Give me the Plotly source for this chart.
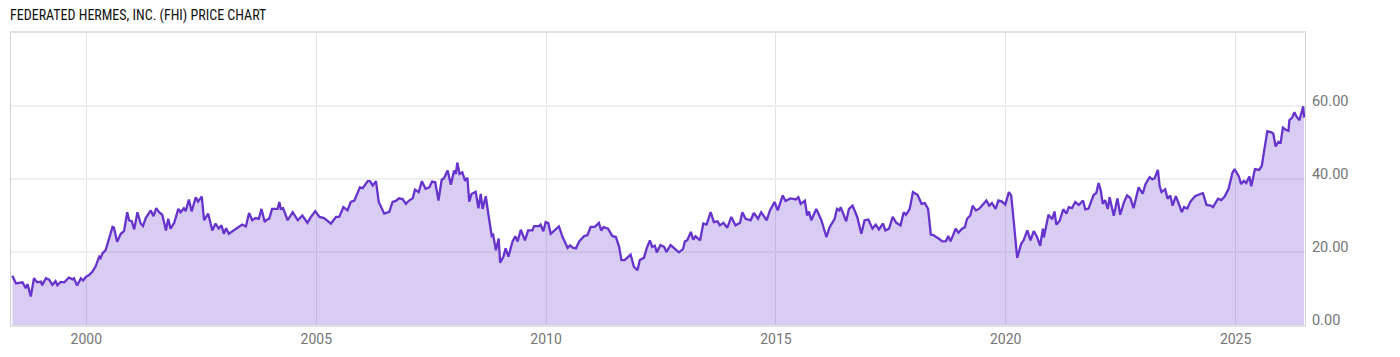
import plotly.graph_objects as go
import pandas as pd

# Decimal-year timestamps and closing prices (USD)
t_1998_2003 = [1998.39, 1998.47, 1998.61, 1998.68, 1998.72, 1998.79, 1998.86, 1998.93, 1999.01, 1999.04,
               1999.12, 1999.19, 1999.26, 1999.33, 1999.37, 1999.44, 1999.52, 1999.62, 1999.70, 1999.73,
               1999.80, 1999.88, 1999.93, 1999.99, 2000.06, 2000.13, 2000.20, 2000.28, 2000.31, 2000.35,
               2000.42, 2000.49, 2000.57, 2000.60, 2000.67, 2000.75, 2000.82, 2000.89, 2000.93, 2000.99,
               2001.04, 2001.11, 2001.18, 2001.23, 2001.29, 2001.40, 2001.46, 2001.52, 2001.58, 2001.65,
               2001.73, 2001.78, 2001.83, 2001.91, 2002.00, 2002.05, 2002.12, 2002.16, 2002.23, 2002.29,
               2002.38, 2002.43, 2002.51, 2002.56, 2002.65, 2002.74, 2002.81, 2002.88, 2002.94, 2002.99,
               2003.04, 2003.10, 2003.25, 2003.39, 2003.47, 2003.54, 2003.61, 2003.68, 2003.75, 2003.81,
               2003.88]
p_1998_2003 = [13.5, 11.4, 11.7, 10.1, 11.2, 7.8, 12.8, 11.7, 11.9, 10.9,
               12.8, 12.4, 11.0, 12.0, 10.9, 11.8, 11.7, 13.0, 12.5, 12.8,
               10.8, 12.8, 12.2, 13.2, 13.7, 14.6, 16.0, 18.7, 18.3, 19.6,
               20.5, 23.2, 26.9, 26.7, 22.8, 25.0, 25.7, 30.9, 28.7, 28.4,
               26.2, 30.9, 27.8, 27.1, 29.3, 31.4, 29.8, 32.0, 30.9, 30.2,
               25.9, 29.1, 26.4, 28.0, 31.8, 30.9, 32.0, 31.2, 34.4, 31.1,
               35.0, 33.8, 35.2, 28.7, 30.5, 25.9, 27.8, 26.4, 27.3, 25.0,
               26.5, 25.0, 26.4, 27.5, 27.0, 30.7, 28.7, 29.3, 29.1, 31.8,
               28.2]

t_2004_2009 = [2003.91, 2003.98, 2004.04, 2004.16, 2004.20, 2004.23, 2004.28, 2004.38, 2004.49, 2004.60,
               2004.70, 2004.81, 2004.88, 2004.98, 2005.07, 2005.17, 2005.32, 2005.43, 2005.50, 2005.59,
               2005.68, 2005.75, 2005.83, 2005.95, 2006.01, 2006.12, 2006.17, 2006.23, 2006.30, 2006.36,
               2006.41, 2006.48, 2006.59, 2006.66, 2006.73, 2006.80, 2006.88, 2006.95, 2007.02, 2007.10,
               2007.15, 2007.23, 2007.30, 2007.38, 2007.46, 2007.52, 2007.59, 2007.66, 2007.73, 2007.78,
               2007.86, 2007.93, 2008.00, 2008.04, 2008.07, 2008.12, 2008.18, 2008.24, 2008.29, 2008.33,
               2008.38, 2008.47, 2008.53, 2008.58, 2008.62, 2008.69, 2008.75, 2008.82, 2008.85, 2008.91,
               2008.97, 2009.00, 2009.07, 2009.12, 2009.18, 2009.27, 2009.33, 2009.38, 2009.45]
p_2004_2009 = [28.7, 29.2, 31.8, 31.8, 33.7, 31.8, 32.0, 28.7, 30.9, 28.7,
               30.0, 28.0, 29.5, 31.2, 29.6, 29.3, 27.8, 29.6, 29.6, 32.3,
               31.4, 33.7, 34.1, 37.7, 37.5, 39.4, 39.4, 38.2, 39.4, 33.7,
               32.3, 30.5, 31.0, 33.7, 34.0, 34.7, 34.5, 33.2, 34.1, 34.7,
               37.1, 36.4, 39.4, 37.3, 37.7, 39.3, 39.1, 34.1, 39.8, 40.2,
               42.3, 38.4, 42.3, 41.4, 44.5, 41.4, 41.8, 39.5, 40.4, 33.8,
               35.9, 36.5, 32.0, 35.9, 31.8, 35.3, 30.0, 24.4, 24.7, 20.5,
               23.7, 17.1, 18.7, 21.0, 18.7, 22.9, 24.3, 22.9, 26.1]

t_2009_2015 = [2009.54, 2009.61, 2009.70, 2009.74, 2009.85, 2009.88, 2009.94, 2009.99, 2010.05, 2010.10,
               2010.21, 2010.28, 2010.36, 2010.47, 2010.52, 2010.58, 2010.65, 2010.72, 2010.83, 2010.90,
               2010.97, 2011.06, 2011.15, 2011.20, 2011.25, 2011.35, 2011.44, 2011.52, 2011.59, 2011.64,
               2011.71, 2011.81, 2011.84, 2011.91, 2011.99, 2012.04, 2012.13, 2012.19, 2012.26, 2012.31,
               2012.37, 2012.41, 2012.49, 2012.57, 2012.62, 2012.71, 2012.80, 2012.89, 2012.98, 2013.02,
               2013.07, 2013.15, 2013.20, 2013.25, 2013.35, 2013.42, 2013.49, 2013.58, 2013.65, 2013.73,
               2013.78, 2013.86, 2013.94, 2014.03, 2014.12, 2014.22, 2014.27, 2014.34, 2014.45, 2014.52,
               2014.61, 2014.68, 2014.80, 2014.87, 2014.97, 2015.04]
p_2009_2015 = [23.2, 25.9, 25.9, 27.1, 27.1, 27.5, 25.7, 28.2, 27.9, 25.0,
               26.4, 27.0, 24.1, 21.1, 21.8, 21.2, 21.0, 22.9, 24.4, 24.6,
               26.9, 26.9, 28.0, 25.9, 26.8, 26.4, 24.4, 24.1, 21.4, 17.8,
               17.8, 19.0, 19.3, 16.0, 15.0, 17.8, 18.4, 21.0, 23.2, 21.4,
               21.7, 19.9, 21.9, 21.4, 20.0, 21.9, 21.0, 19.9, 20.8, 22.9,
               23.2, 25.5, 23.4, 24.3, 23.2, 27.8, 27.5, 30.9, 28.2, 28.4,
               27.3, 28.0, 26.6, 29.6, 27.3, 28.0, 30.9, 29.1, 28.7, 30.7,
               29.1, 30.9, 28.7, 31.4, 33.7, 31.4]

t_2015_2020 = [2015.15, 2015.21, 2015.32, 2015.43, 2015.49, 2015.54, 2015.63, 2015.68, 2015.72, 2015.77,
               2015.88, 2015.99, 2016.10, 2016.17, 2016.28, 2016.33, 2016.38, 2016.41, 2016.53, 2016.59,
               2016.67, 2016.77, 2016.86, 2016.93, 2017.01, 2017.10, 2017.17, 2017.24, 2017.33, 2017.38,
               2017.46, 2017.54, 2017.62, 2017.71, 2017.78, 2017.83, 2017.91, 2017.98, 2018.08, 2018.17,
               2018.24, 2018.31, 2018.37, 2018.43, 2018.54, 2018.62, 2018.70, 2018.75, 2018.80, 2018.91,
               2018.97, 2019.05, 2019.11, 2019.16, 2019.23, 2019.28, 2019.35, 2019.42, 2019.48, 2019.58,
               2019.64, 2019.70, 2019.78, 2019.84, 2019.92, 2019.99, 2020.07, 2020.12, 2020.17, 2020.25]
p_2015_2020 = [35.5, 34.0, 34.7, 34.4, 35.0, 33.2, 34.1, 30.0, 31.1, 28.7,
               31.8, 28.7, 24.1, 26.8, 29.1, 31.8, 31.4, 32.3, 28.4, 31.8,
               32.7, 29.6, 25.0, 28.7, 28.9, 26.4, 27.5, 26.2, 27.8, 25.9,
               26.4, 29.6, 28.0, 27.3, 30.9, 30.2, 31.8, 36.4, 35.7, 33.2,
               33.4, 31.8, 24.8, 24.6, 23.7, 22.9, 23.0, 24.4, 22.9, 26.4,
               25.3, 26.4, 26.8, 29.1, 30.0, 32.7, 31.4, 31.8, 32.7, 34.1,
               32.7, 33.4, 31.8, 34.1, 33.8, 33.0, 36.4, 35.5, 29.1, 18.4]

t_2020_2026 = [2020.34, 2020.39, 2020.47, 2020.54, 2020.61, 2020.68, 2020.75, 2020.81, 2020.83, 2020.93,
               2021.01, 2021.06, 2021.10, 2021.17, 2021.25, 2021.32, 2021.37, 2021.44, 2021.51, 2021.59,
               2021.68, 2021.73, 2021.80, 2021.91, 2021.97, 2022.02, 2022.07, 2022.11, 2022.16, 2022.22,
               2022.26, 2022.35, 2022.43, 2022.49, 2022.57, 2022.64, 2022.71, 2022.78, 2022.89, 2022.98,
               2023.04, 2023.13, 2023.19, 2023.24, 2023.31, 2023.35, 2023.39, 2023.47, 2023.52, 2023.58,
               2023.63, 2023.70, 2023.78, 2023.83, 2023.88, 2023.95, 2024.02, 2024.12, 2024.23, 2024.29,
               2024.37, 2024.46, 2024.51, 2024.62, 2024.69, 2024.76, 2024.85, 2024.93, 2024.98, 2025.04,
               2025.07, 2025.12, 2025.18, 2025.23, 2025.30, 2025.34, 2025.42, 2025.51, 2025.57, 2025.62,
               2025.69, 2025.78, 2025.82, 2025.87, 2025.93, 2025.98, 2026.03, 2026.09, 2026.15, 2026.17,
               2026.23, 2026.28, 2026.32, 2026.39, 2026.47, 2026.49]
p_2020_2026 = [22.3, 23.2, 25.9, 23.2, 25.7, 24.2, 21.7, 26.4, 24.0, 30.2,
               29.0, 31.1, 27.5, 28.5, 31.7, 30.5, 32.3, 32.0, 33.7, 32.9,
               34.1, 31.7, 31.9, 35.6, 36.2, 38.9, 36.7, 33.2, 34.2, 31.8,
               35.0, 29.9, 34.7, 30.2, 33.6, 35.5, 34.8, 32.0, 37.7, 36.0,
               38.6, 40.5, 39.9, 40.2, 42.5, 38.0, 36.4, 37.2, 34.6, 35.5,
               32.7, 35.3, 32.7, 30.9, 32.3, 31.9, 33.8, 35.3, 35.9, 36.1,
               32.9, 32.7, 32.3, 34.6, 34.2, 35.1, 37.3, 41.6, 42.7, 41.3,
               40.7, 38.6, 39.5, 38.9, 40.7, 38.0, 42.7, 42.5, 43.6, 47.7,
               53.1, 52.8, 52.4, 48.9, 50.2, 50.0, 54.1, 53.5, 53.2, 56.1,
               56.8, 58.3, 57.2, 56.1, 59.9, 56.8]

y_tick_values = [0, 20, 40, 60]
y_tick_labels = ["0.00", "20.00", "40.00", "60.00"]
x_tick_years = [2000, 2005, 2010, 2015, 2020, 2025]
x_range_years = [1998.36, 2026.51]
title_text = "FEDERATED HERMES, INC. (FHI) PRICE CHART"


def to_date(dec_year):
    year = int(dec_year)
    start = pd.Timestamp(year=year, month=1, day=1)
    return start + pd.Timedelta(days=(dec_year - year) * 365.25)


dec_years = t_1998_2003 + t_2004_2009 + t_2009_2015 + t_2015_2020 + t_2020_2026
prices = p_1998_2003 + p_2004_2009 + p_2009_2015 + p_2015_2020 + p_2020_2026
dates = [to_date(v) for v in dec_years]

LINE = "rgb(102,51,204)"
FILL = "rgba(102,51,204,0.25)"

fig = go.Figure()
fig.add_trace(go.Scatter(
    x=dates, y=prices, mode="lines",
    line=dict(color=LINE, width=2.3),
    fill="tozeroy", fillcolor=FILL,
    hoverinfo="skip", showlegend=False,
))

fig.update_layout(
    width=1400, height=357,
    margin=dict(l=10, r=95, t=33, b=30),
    paper_bgcolor="white", plot_bgcolor="white",
    title=dict(
        text=title_text, x=10 / 1400, xanchor="left", xref="container",
        y=1 - 15 / 357, yanchor="middle", yref="container",
        font=dict(family="Roboto Condensed, Liberation Sans Narrow, DejaVu Sans Condensed, Roboto",
                  size=14, color="#111111"),
    ),
    font=dict(family="Roboto, sans-serif", size=14, color="#757575"),
)

fig.update_xaxes(
    type="date",
    range=[to_date(x_range_years[0]), to_date(x_range_years[1])],
    tickvals=[pd.Timestamp(year=y, month=1, day=1) for y in x_tick_years],
    ticktext=[str(y) for y in x_tick_years],
    showgrid=True, gridcolor="#e3e3e3", gridwidth=1,
    showline=True, linecolor="#e0e0e0", linewidth=2, mirror=True,
    ticks="", zeroline=False,
    tickfont=dict(size=14, color="#757575"),
)
fig.update_yaxes(
    side="right", range=[0, 80],
    tickvals=y_tick_values, ticktext=y_tick_labels,
    ticklabelposition="outside",
    ticklabelshift=-5,
    ticklabelstandoff=3,
    showgrid=True, gridcolor="#efefef", gridwidth=2,
    showline=True, linecolor="#d0d0d0", linewidth=1, mirror=True,
    ticks="", zeroline=False,
    tickfont=dict(size=14.6, color="#757575"),
)

fig.write_html("out.html")
